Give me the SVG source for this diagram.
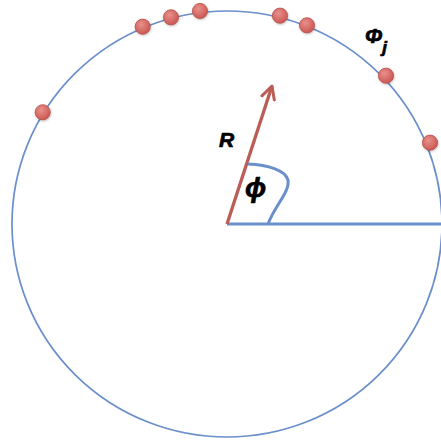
<svg xmlns="http://www.w3.org/2000/svg" width="441" height="444" viewBox="0 0 441 444">
  <defs>
    <radialGradient id="dotGrad" cx="0.4" cy="0.35" r="0.7">
      <stop offset="0" stop-color="#e8908b"/>
      <stop offset="1" stop-color="#c9544f"/>
    </radialGradient>
    <marker id="arrowHead" viewBox="0 0 16 16" refX="14" refY="8" markerWidth="16" markerHeight="16" markerUnits="userSpaceOnUse" orient="auto">
      <path d="M1.5,1.5 L14,8 L1.5,14.5" fill="none" stroke="#bb5c57" stroke-width="3" stroke-linecap="round" stroke-linejoin="round"/>
    </marker>
    <filter id="shadow" x="-20%" y="-20%" width="140%" height="140%">
      <feDropShadow dx="0.5" dy="1" stdDeviation="0.8" flood-color="#000" flood-opacity="0.25"/>
    </filter>
  </defs>
  <style>
    .blue { fill: none; stroke: #6a8fcb; stroke-width: 1.7; }
    .dot { fill: url(#dotGrad); stroke: #b5504b; stroke-width: 0.8; filter: url(#shadow); }
    .lbl { font-family: "Liberation Sans", Arial, sans-serif; font-weight: bold; font-style: italic; fill: #000; stroke: #000; stroke-width: 0.7; }
  </style>
  <rect width="441" height="444" fill="#fff"/>
  <g id="circle">
    <ellipse class="blue" cx="227" cy="224" rx="215" ry="213"/>
  </g>
  <g id="connectors">
    <line x1="227" y1="224" x2="441" y2="224" stroke="#6a8fcb" stroke-width="3"/>
    <line x1="227" y1="224" x2="272" y2="86" stroke="#bb5c57" stroke-width="3.3" marker-end="url(#arrowHead)"/>
    <path d="M248,164 C268,165 285,170 288,180 C290,192 275,205 268,224" fill="none" stroke="#6a8fcb" stroke-width="3"/>
  </g>
  <g id="points">
    <circle class="dot" cx="142.7" cy="26.7" r="7.6"/>
    <circle class="dot" cx="171" cy="17.3" r="7.6"/>
    <circle class="dot" cx="200" cy="11" r="7.6"/>
    <circle class="dot" cx="280" cy="15.7" r="7.6"/>
    <circle class="dot" cx="307" cy="25.3" r="7.6"/>
    <circle class="dot" cx="386" cy="75.7" r="7.6"/>
    <circle class="dot" cx="430" cy="142.7" r="7.6"/>
    <circle class="dot" cx="42.7" cy="112.3" r="7.6"/>
  </g>
  <g id="labels">
    <text class="lbl" x="219" y="147" font-size="21">R</text>
    <text class="lbl" x="245" y="197" font-size="28">ϕ</text>
    <text class="lbl" x="365" y="43" font-size="21">Φ<tspan font-size="17" dy="10">j</tspan></text>
  </g>
</svg>
